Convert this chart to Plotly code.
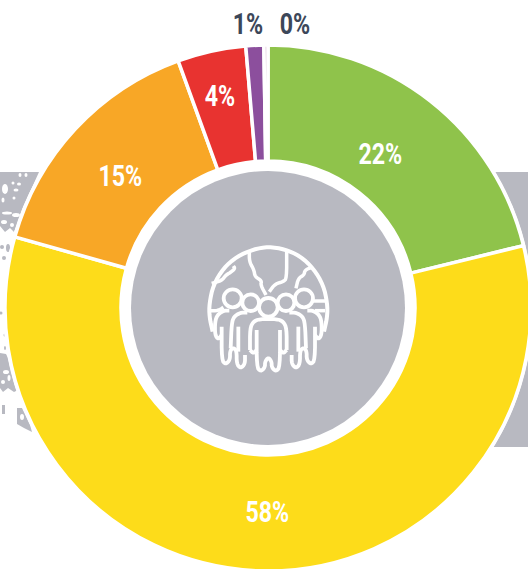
import plotly.graph_objects as go

categories = ["Green", "Yellow", "Orange", "Red", "Purple", "Pale"]
values = [21.2, 58.2, 15.1, 4.2, 1.1, 0.25]
shown = ["22%", "58%", "15%", "4%", "1%", "0%"]
colors = ["#8FC34B", "#FDDC1A", "#F8A726", "#E83330", "#8C4F9D", "#D9BAD2"]
label_colors = ["white", "white", "white", "white", "#3C4759", "#3C4759"]
label_xy = [(380, 154), (267, 512), (120, 176), (220, 96), (248, 24), (295, 24)]

VIEW_W, VIEW_H = 528, 569
W, H = 532, 572           # slightly over the page: the ring bleeds off it, as in the reference
CX, CY = 268, 308
RADIUS = 263
GRAY = "#B8B9C1"

def px(x): return x / W
def py(y): return 1 - y / H

def path(pts, closed=True):
    s = "M" + " L".join(f"{px(x):.5f},{py(y):.5f}" for x, y in pts)
    return s + (" Z" if closed else "")

def circle(cx, cy, r, fill, line=None, lw=0):
    return dict(type="circle", xref="paper", yref="paper", layer="below", x0=px(cx-r), x1=px(cx+r),
                y0=py(cy+r), y1=py(cy-r), fillcolor=fill,
                line=dict(color=line or fill, width=lw))

def ell(cx, cy, a, b, fill="white"):
    return dict(type="circle", xref="paper", yref="paper", layer="below", x0=px(cx-a), x1=px(cx+a),
                y0=py(cy+b), y1=py(cy-b), fillcolor=fill, line=dict(width=0))

def poly(pts, fill=GRAY):
    return dict(type="path", xref="paper", yref="paper", layer="below", path=path(pts),
                fillcolor=fill, line=dict(width=0))

def chaikin(pts, n=2):
    for _ in range(n):
        out = [pts[0]]
        for (a, b), (c, d) in zip(pts, pts[1:]):
            out += [(0.75*a+0.25*c, 0.75*b+0.25*d), (0.25*a+0.75*c, 0.25*b+0.75*d)]
        out.append(pts[-1])
        pts = out
    return pts

def stroke(pts, w=4):
    conv = [(190 + x/3, 220 + y/3) for x, y in chaikin(pts)]
    return dict(type="path", xref="paper", yref="paper", layer="below", path=path(conv, False),
                line=dict(color="white", width=w))

shapes = []
# gray band
shapes.append(dict(type="rect", xref="paper", yref="paper", layer="below", x0=px(400), x1=1,
                   y0=py(447), y1=py(172), fillcolor=GRAY, line=dict(width=0)))
# left textured band
shapes.append(poly([(0,172),(39,172),(30,192),(22,210),(18,222),(14,232),(10,228),(5,232),(0,226)]))
shapes.append(poly([(0,353),(6,354),(10,362),(14,378),(18,390),(14,392),(8,388),(3,392),(0,388)]))
shapes.append(poly([(17,408),(22,408),(30,425),(32,432),(24,428),(17,424)]))
shapes.append(poly([(2,405),(5,405),(5,414),(2,414)]))
for c in [(5,189,3,5),(3,200,1.5,2.5),(13,183,1.5,1.5),(19,184,2,1.5),(16,190,2.5,1.5),(14,198,1.5,1.5),
          (20,175,1.5,2),(26,175,1.5,2),(7,213,5,1.5),(16,215,4,2),(4,222,3,2),(12,225,2,2),
          (6,372,3,2),(3,382,2,2),(9,378,1.5,3),(22,417,2,3)]:
    shapes.append(ell(*c))
for c in [(1,313,1.5,1.5),(5,335,1.5,1.5),(5,348,1,2),(2,247,2,2),(8,248,2,4),(4,258,2,2),(13,252,3,3),(15,387,1.5,2)]:
    shapes.append(ell(*c, fill=GRAY))
# white halo, center disc
shapes.append(circle(CX, CY, 265, "white"))
shapes.append(circle(CX, CY, 137, GRAY))

# icon: globe lines
arc = [(68,335),(58,290),(58,250),(70,195),(100,145),(140,110),(190,88),(235,80),(285,88),
       (330,108),(370,145),(400,195),(412,250),(412,290),(402,335)]
shapes.append(stroke(arc, 4))
for line in [
    [(65,190),(95,182),(108,165),(125,155),(135,145),(130,138)],
    [(178,92),(178,125),(192,150),(195,170),(215,182),(212,195),(228,225)],
    [(290,92),(290,175),(280,185),(255,192),(238,215)],
    [(318,205),(325,175),(342,165),(345,150),(365,142)],
    [(58,272),(85,272),(100,262)],
    [(370,243),(410,243)],
    [(375,272),(405,272)],
]:
    shapes.append(stroke(line, 3.5))

# icon: people, left half mirrored around x = 235
def mirrored(pts):
    return [(470 - x, y) for x, y in pts]

side = [
    [(118,272),(100,272),(82,285),(75,305),(75,345),(85,358),(95,345)],
    [(95,320),(95,420),(107,433),(120,420),(120,392),(130,383),(140,392),(140,432),(152,445),(165,432),(165,405)],
    [(172,278),(150,278),(132,290),(125,310),(122,385)],
    [(145,320),(145,395)],
]
for s in side:
    shapes.append(stroke(s, 3.8))
    shapes.append(stroke(mirrored(s), 3.8))
shapes.append(stroke([(180,390),(180,325),(190,305),(208,297),(262,297),(280,305),(290,325),(290,390)], 3.8))
shapes.append(stroke([(180,390),(190,400),(200,390)], 3.8))
shapes.append(stroke([(270,390),(280,400),(290,390)], 3.8))
shapes.append(stroke([(200,330),(200,440),(212,455),(225,442),(225,425),(235,412),(245,425),(245,442),(258,455),(270,440),(270,330)], 3.8))
for c, r in [((128,235),27),((182,248),25),((288,248),25),((342,235),27),((235,262),28)]:
    shapes.append(circle(190 + c[0]/3, 220 + c[1]/3, r/3, GRAY, "white", 3.8))

FONT = "Roboto"
fig = go.Figure(go.Pie(
    labels=categories, values=values, textinfo="none",
    hole=147/RADIUS, sort=False, direction="clockwise", rotation=0,
    marker=dict(colors=colors, line=dict(color="white", width=3.5)),
    domain=dict(x=[px(CX-RADIUS), px(CX+RADIUS)], y=[py(CY+RADIUS), py(CY-RADIUS)]),
    hoverinfo="label+percent", showlegend=False,
))
fig.update_layout(
    width=W, height=H, margin=dict(l=0, r=0, t=0, b=0), autosize=False,
    paper_bgcolor="white", plot_bgcolor="white", shapes=shapes,
    annotations=[
        dict(text=t, x=px(x), y=py(y), xref="paper", yref="paper", showarrow=False,
             xanchor="center", yanchor="middle",
             font=dict(family=FONT, size=29, color=c, weight=700))
        for t, c, (x, y) in zip(shown, label_colors, label_xy)
    ],
)
post = """
document.documentElement.style.overflow='hidden';
document.body.style.margin='0';
document.body.style.overflow='hidden';
document.querySelectorAll('.annotation-text').forEach(function(t){
  var b=t.getBBox(), c=b.x+b.width/2, s=0.8;
  t.setAttribute('transform','translate('+(c*(1-s))+',0) scale('+s+',1)');
});
"""
fig.write_html("out.html", config=dict(displayModeBar=False), post_script=post)
